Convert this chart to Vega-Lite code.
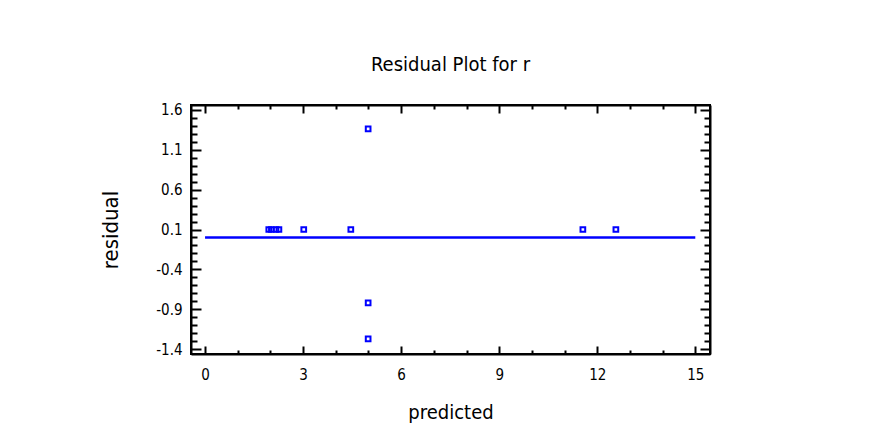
{
  "$schema": "https://vega.github.io/schema/vega-lite/v6.json",
  "width": 519,
  "height": 249,
  "autosize": "none",
  "padding": {"left": 191, "top": 105, "right": 174, "bottom": 90},
  "background": "white",
  "title": {
    "text": "Residual Plot for r",
    "font": "Liberation Sans Narrow, DejaVu Sans Condensed, Liberation Sans",
    "fontSize": 20,
    "fontWeight": "normal",
    "color": "black",
    "anchor": "middle",
    "offset": 28
  },
  "config": {
    "view": {"stroke": "black", "strokeWidth": 2},
    "axis": {
      "domainColor": "black",
      "domainWidth": 2,
      "tickColor": "black",
      "tickWidth": 2,
      "labelFont": "Liberation Sans Narrow, DejaVu Sans Condensed, Liberation Sans",
      "labelFontSize": 15,
      "labelColor": "black",
      "titleFont": "Liberation Sans Narrow, DejaVu Sans Condensed, Liberation Sans",
      "titleFontSize": 20,
      "titleFontWeight": "normal",
      "titleColor": "black",
      "grid": false
    }
  },
  "resolve": {"axis": {"x": "independent", "y": "independent"}},
  "layer": [
    {
      "data": {
        "values": [
          {"predicted": 1.95, "residual": 0.1},
          {"predicted": 2.03, "residual": 0.1},
          {"predicted": 2.17, "residual": 0.1},
          {"predicted": 2.26, "residual": 0.1},
          {"predicted": 3.02, "residual": 0.1},
          {"predicted": 4.46, "residual": 0.1},
          {"predicted": 4.99, "residual": 1.36},
          {"predicted": 4.99, "residual": -0.82},
          {"predicted": 4.99, "residual": -1.27},
          {"predicted": 11.56, "residual": 0.1},
          {"predicted": 12.57, "residual": 0.1}
        ]
      },
      "mark": {"type": "point", "shape": "square", "filled": false, "color": "#0000ff", "strokeWidth": 2, "size": 22, "opacity": 1},
      "encoding": {
        "x": {
          "field": "predicted",
          "type": "quantitative",
          "scale": {"domain": [-0.43, 15.45], "nice": false, "zero": false},
          "axis": {
            "orient": "bottom",
            "title": "predicted",
            "values": [0, 1, 2, 3, 4, 5, 6, 7, 8, 9, 10, 11, 12, 13, 14, 15],
            "labelExpr": "datum.value % 3 === 0 ? datum.label : ''",
            "tickSize": {"condition": {"test": "datum.value % 3 === 0", "value": -8}, "value": -4},
            "labelPadding": 21,
            "titlePadding": 16,
            "labelOverlap": false
          }
        },
        "y": {
          "field": "residual",
          "type": "quantitative",
          "scale": {"domain": [-1.46, 1.66], "nice": false, "zero": false},
          "axis": {
            "orient": "left",
            "title": "residual",
            "titleFontSize": 22,
            "values": [-1.4, -1.3, -1.2, -1.1, -1.0, -0.9, -0.8, -0.7, -0.6, -0.5, -0.4, -0.3, -0.2, -0.1, 0.0, 0.1, 0.2, 0.3, 0.4, 0.5, 0.6, 0.7, 0.8, 0.9, 1.0, 1.1, 1.2, 1.3, 1.4, 1.5, 1.6],
            "labelExpr": "(round(datum.value*10)+50) % 5 === 1 ? replace(format(datum.value, '.1f'), '\u2212', '-') : ''",
            "tickSize": {"condition": {"test": "(round(datum.value*10)+50) % 5 === 1", "value": -10}, "value": -6},
            "labelPadding": 19,
            "titlePadding": 33,
            "labelOverlap": false
          }
        }
      }
    },
    {
      "data": {"values": [{"from": 0, "to": 15, "zero": 0}]},
      "mark": {"type": "rule", "color": "#0000ff", "strokeWidth": 2.5},
      "encoding": {
        "x": {
          "field": "from",
          "type": "quantitative",
          "axis": {
            "orient": "top",
            "title": null,
            "labels": false,
            "values": [0, 1, 2, 3, 4, 5, 6, 7, 8, 9, 10, 11, 12, 13, 14, 15],
            "tickSize": {"condition": {"test": "datum.value % 3 === 0", "value": -8}, "value": -4}
          }
        },
        "x2": {"field": "to"},
        "y": {
          "field": "zero",
          "type": "quantitative",
          "axis": {
            "orient": "right",
            "title": null,
            "labels": false,
            "values": [-1.4, -1.3, -1.2, -1.1, -1.0, -0.9, -0.8, -0.7, -0.6, -0.5, -0.4, -0.3, -0.2, -0.1, 0.0, 0.1, 0.2, 0.3, 0.4, 0.5, 0.6, 0.7, 0.8, 0.9, 1.0, 1.1, 1.2, 1.3, 1.4, 1.5, 1.6],
            "tickSize": {"condition": {"test": "(round(datum.value*10)+50) % 5 === 1", "value": -10}, "value": -6}
          }
        }
      }
    }
  ]
}
